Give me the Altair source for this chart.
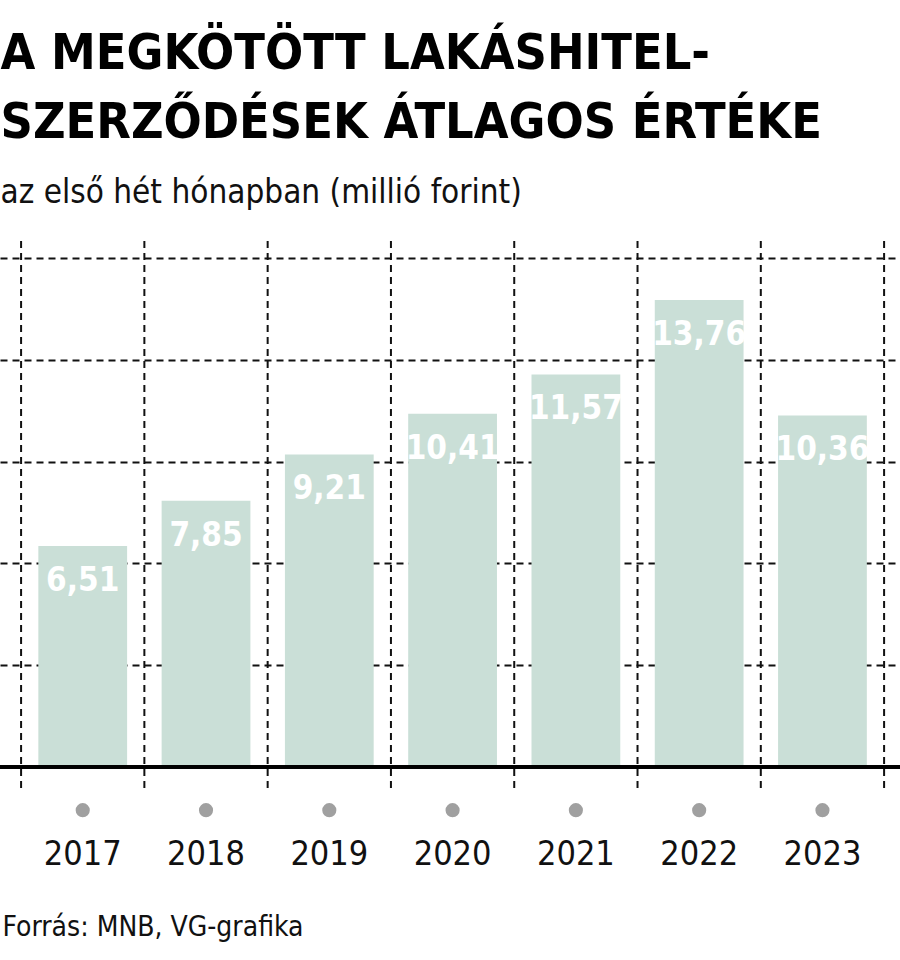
import altair as alt
import pandas as pd

years = ["2017", "2018", "2019", "2020", "2021", "2022", "2023"]
values = [6.51, 7.85, 9.21, 10.41, 11.57, 13.76, 10.36]
labels = ["6,51", "7,85", "9,21", "10,41", "11,57", "13,76", "10,36"]
grid_values = [3, 6, 9, 12, 15]

title_lines = ["A MEGKÖTÖTT LAKÁSHITEL-", "SZERZŐDÉSEK ÁTLAGOS ÉRTÉKE"]
subtitle = "az első hét hónapban (millió forint)"
source = "Forrás: MNB, VG-grafika"

df = pd.DataFrame({"year": years, "value": values, "label": labels})

FONT = "DejaVu Sans Condensed, Liberation Sans Narrow, sans-serif"
BAR = "#cadfd7"
Y_TOP, Y_BOT = 15.5, -1.59
RULE_BOT = -0.62
DOT_Y = -1.27

xscale = alt.Scale(paddingInner=0, paddingOuter=0.15, align=0.57)
yscale = alt.Scale(domain=[Y_BOT, Y_TOP], nice=False, zero=False)

base = alt.Chart(df)

bars = base.mark_bar(color=BAR, width=alt.RelativeBandSize(0.72)).encode(
    x=alt.X(
        "year:N",
        scale=xscale,
        sort=years,
        axis=alt.Axis(
            bandPosition=0.5,
            title=source,
            titleFont=FONT,
            titleFontSize=28,
            titleFontWeight="normal",
            titleColor="#111111",
            titleAnchor="start",
            titleAlign="left",
            titleBaseline="alphabetic",
            titleX=2,
            titleY=114,
            labelFont=FONT,
            labelFontSize=34,
            labelColor="#111111",
            labelPadding=16,
            labelAngle=0,
            domain=False,
            ticks=False,
            tickSize=0,
            grid=False,
        ),
    ),
    y=alt.Y(
        "value:Q",
        scale=yscale,
        axis=alt.Axis(
            values=grid_values,
            grid=True,
            gridColor="#111111",
            gridDash=[7, 5],
            gridWidth=2,
            labels=False,
            ticks=False,
            domain=False,
            title=None,
        ),
    ),
)

vrules = base.mark_rule(color="#111111", strokeWidth=2, strokeDash=[7, 5]).encode(
    x=alt.X("year:N", sort=years, bandPosition=0),
    y=alt.datum(Y_TOP),
    y2=alt.datum(RULE_BOT),
)

vrule_end = (
    base.transform_filter(alt.datum.year == years[-1])
    .mark_rule(color="#111111", strokeWidth=2, strokeDash=[7, 5])
    .encode(
        x=alt.X("year:N", sort=years, bandPosition=1),
        y=alt.datum(Y_TOP),
        y2=alt.datum(RULE_BOT),
    )
)

baseline = base.mark_rule(color="#000000", strokeWidth=3).encode(y=alt.datum(0))

dots = base.mark_circle(size=200, color="#a0a0a0", opacity=1).encode(
    x=alt.X("year:N", sort=years),
    y=alt.datum(DOT_Y),
)

texts = base.mark_text(
    color="white",
    font=FONT,
    fontSize=33,
    fontWeight="bold",
    baseline="alphabetic",
    align="center",
    dy=45,
).encode(
    x=alt.X("year:N", sort=years),
    y=alt.Y("value:Q"),
    text="label:N",
)

chart = (
    alt.layer(bars, vrules, vrule_end, baseline, dots, texts)
    .properties(
        width=900,
        height=580,
        autosize=alt.AutoSizeParams(type="none"),
        padding={"top": 241, "left": 0, "right": 0, "bottom": 139},
        title=alt.TitleParams(
            text=title_lines,
            subtitle=subtitle,
            anchor="start",
            dx=2,
            font=FONT,
            fontSize=50,
            fontWeight="bold",
            lineHeight=69,
            color="#000000",
            subtitleFont=FONT,
            subtitleFontSize=33,
            subtitleColor="#111111",
            subtitlePadding=29,
            offset=30,
        ),
    )
    .configure(background="white")
    .configure_view(strokeWidth=0, stroke="transparent")
)

chart.save("out.html", embed_options={"renderer": "svg", "actions": False})
